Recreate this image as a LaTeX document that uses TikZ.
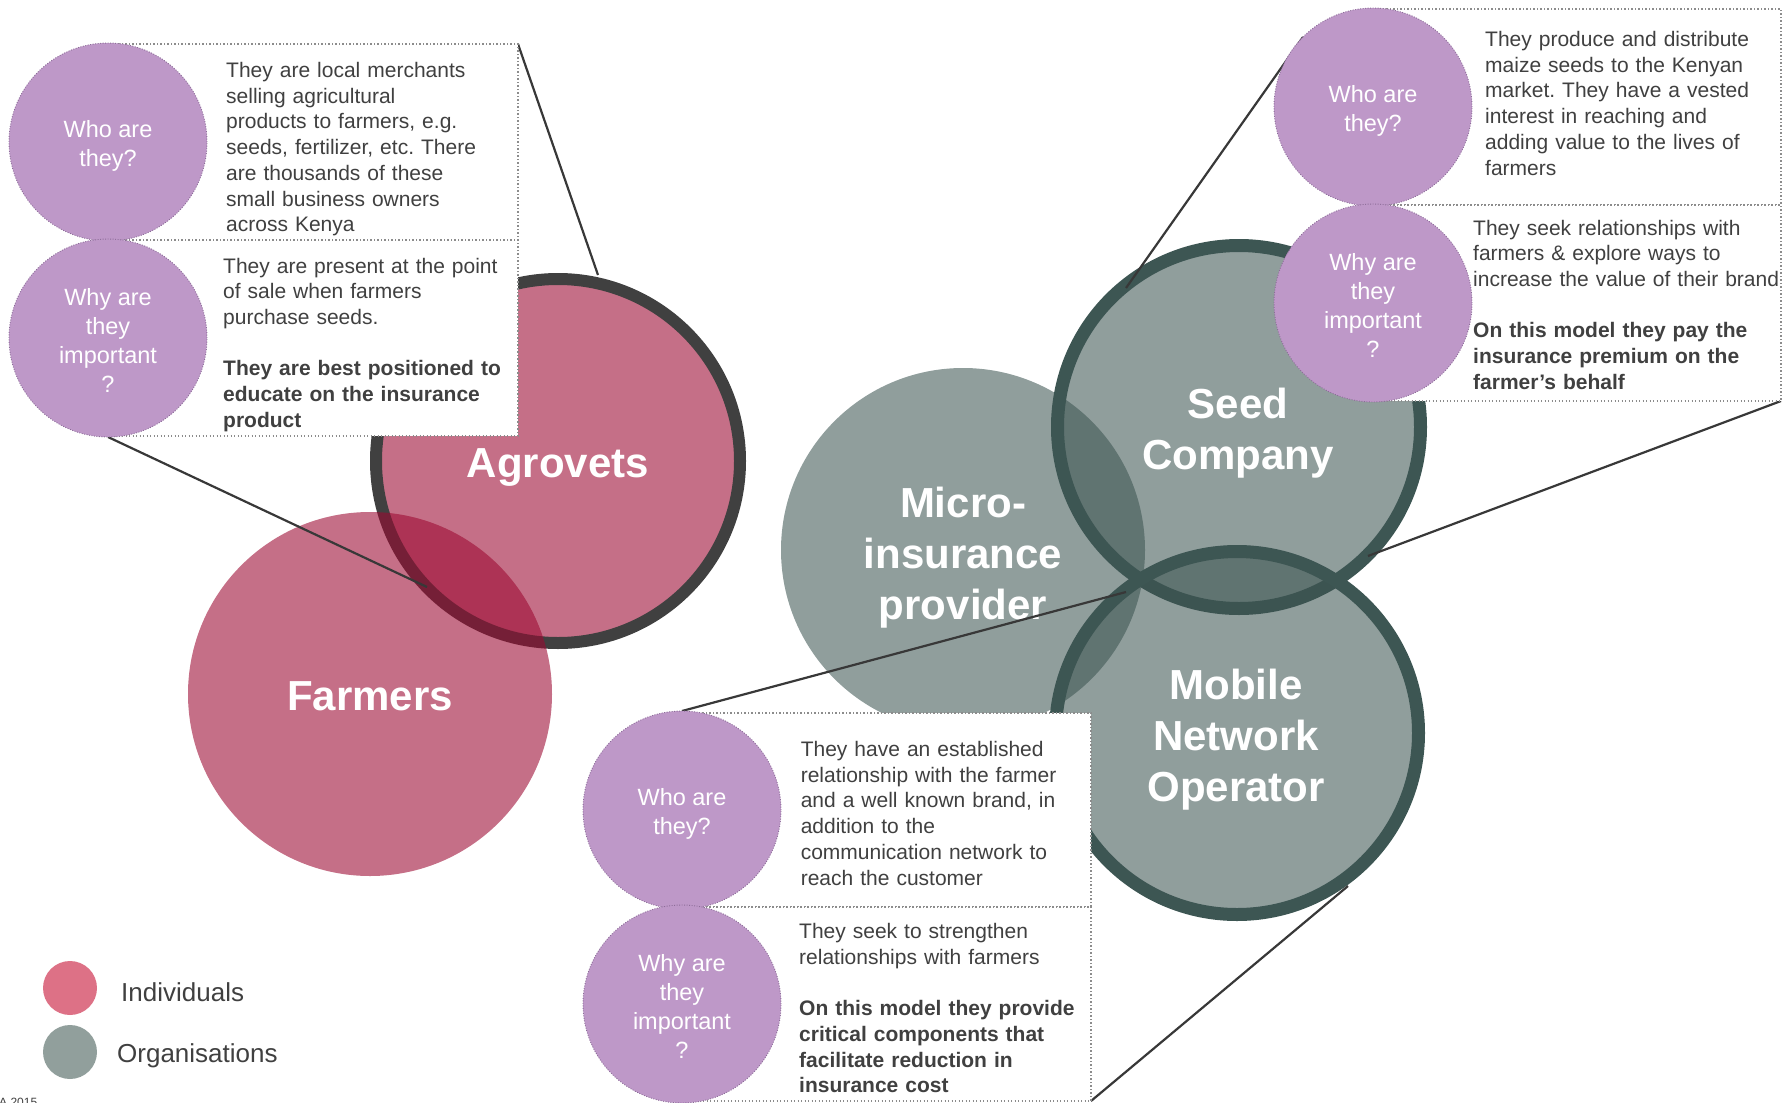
\documentclass[tikz,border=0pt]{standalone}
\usepackage{fontspec}
\setmainfont{Liberation Sans}
\frenchspacing
\definecolor{pinkbase}{RGB}{156,9,49}
\definecolor{greybase}{RGB}{60,84,81}
\definecolor{agroring}{RGB}{64,64,64}
\definecolor{orgring}{RGB}{61,86,83}
\definecolor{lilac}{RGB}{190,152,200}
\definecolor{lilacedge}{RGB}{140,108,152}
\definecolor{boxedge}{RGB}{140,140,140}
\definecolor{txt}{RGB}{64,64,64}
\definecolor{linkcol}{RGB}{56,56,56}
\definecolor{legpink}{RGB}{221,113,134}
\definecolor{leggrey}{RGB}{145,159,156}
\pgfdeclarelayer{circles}
\pgfdeclarelayer{links}
\pgfsetlayers{circles,links,main}
\begin{document}
\begin{tikzpicture}[x=1pt,y=-1pt,
  pinkdisc/.style={circle, inner sep=0pt, outer sep=0pt, minimum size=364pt, fill=pinkbase, fill opacity=0.586},
  greydisc/.style={circle, inner sep=0pt, outer sep=0pt, minimum size=364pt, fill=greybase, fill opacity=0.568},
  bigtext/.style={anchor=base, inner sep=0pt, text width=400pt, align=center, text=white, font=\fontsize{42}{51.3}\selectfont\bfseries},
  infobox/.style={rectangle, anchor=north west, inner sep=0pt, outer sep=0pt, fill=white, draw=boxedge, line width=1.1pt, dash pattern=on 1.1pt off 2.4pt},
  lilacdisc/.style={circle, inner sep=0pt, outer sep=0pt, minimum size=198pt, fill=lilac, draw=lilacedge, line width=0.9pt, dash pattern=on 0.9pt off 1.6pt},
  circtext/.style={inner sep=0pt, align=center, text=white, font=\fontsize{23.5}{29}\selectfont},
  bodytext/.style={anchor=base west, inner sep=0pt, text width=330pt, align=left, text=txt, font=\fontsize{21}{25.7}\selectfont},
  link/.style={draw=linkcol, line width=2.2pt},
  legdot/.style={circle, inner sep=0pt, minimum size=54pt},
  legtext/.style={anchor=base west, inner sep=0pt, text=txt, font=\fontsize{26}{30}\selectfont}
]
\useasboundingbox (0,0) rectangle (1786,1103);
\clip (0,0) rectangle (1786,1103);

\begin{pgfonlayer}{circles}
% ---------- individuals ----------
\node[pinkdisc, draw=agroring, draw opacity=1, line width=12pt] (agro) at (558,461) {};
\node[pinkdisc] (farm) at (370,694) {};
\node[bigtext] (agrolbl) at (558,477) {Agrovets};
\node[bigtext] (farmlbl) at (370,710) {Farmers};
% ---------- organisations ----------
\node[greydisc] (micro) at (963,550) {};
\node[greydisc, minimum size=363pt, draw=orgring, draw opacity=1, line width=13pt] (seed) at (1239,427) {};
\node[greydisc, minimum size=363pt, draw=orgring, draw opacity=1, line width=13pt] (mno) at (1237,733) {};
\node[bigtext] (microlbl) at (963,517) {Micro-\\insurance\\provider};
\node[bigtext] (seedlbl) at (1238,418) {Seed\\Company};
\node[bigtext] (mnolbl) at (1236,699) {Mobile\\Network\\Operator};
\end{pgfonlayer}

% ---------- link end points ----------
\coordinate (agroTop) at (598,275);
\coordinate (farmAgro) at (427,587);
\coordinate (seedTop) at (1126,288);
\coordinate (seedRight) at (1368,556);
\coordinate (microLink) at (1126,592);
\coordinate (mnoLink) at (1348,886);

% ---------- panels ----------
\node[infobox, minimum width=410pt, minimum height=196pt] (p1a) at (108,44) {};
\node[infobox, minimum width=410pt, minimum height=196pt] (p1b) at (108,240) {};
\node[lilacdisc] (p1c1) at (108,142) {};
\node[lilacdisc] (p1c2) at (108,338) {};

\node[infobox, minimum width=408pt, minimum height=196pt] (p2a) at (1373,9) {};
\node[infobox, minimum width=408pt, minimum height=196pt] (p2b) at (1373,205) {};
\node[lilacdisc] (p2c1) at (1373,107) {};
\node[lilacdisc] (p2c2) at (1373,303) {};

\node[infobox, minimum width=409pt, minimum height=194pt] (p3a) at (682,713) {};
\node[infobox, minimum width=409pt, minimum height=194pt] (p3b) at (682,907) {};
\node[lilacdisc] (p3c1) at (682,810) {};
\node[lilacdisc] (p3c2) at (682,1004) {};

% ---------- connectors (between circles and panels) ----------
\begin{pgfonlayer}{links}
\path[link] (p1a.north east) -- (agroTop);
\path[link] (p1c2.south) -- (farmAgro);
\path[link] (p2c1.135) -- (seedTop);
\path[link] (p2b.south east) -- (seedRight);
\path[link] (p3c1.north) -- (microLink);
\path[link] (p3b.south east) -- (mnoLink);
\end{pgfonlayer}

% ---------- panel texts ----------
\node[circtext] (p1q1) at ([yshift=-4pt]p1c1) {Who are\\they?};
\node[circtext] (p1q2) at ([yshift=-2pt]p1c2) {Why are\\they\\important\\?};
\node[bodytext] (p1t1) at (226,77.5) {They are local merchants\\selling agricultural\\products to farmers, e.g.\\seeds, fertilizer, etc. There\\are thousands of these\\small business owners\\across Kenya};
\node[bodytext] (p1t2) at (223,273) {They are present at the point\\of sale when farmers\\purchase seeds.\\[25.7pt]\textbf{They are best positioned to}\\\textbf{educate on the insurance}\\\textbf{product}};

\node[circtext] (p2q1) at ([yshift=-4pt]p2c1) {Who are\\they?};
\node[circtext] (p2q2) at ([yshift=-2pt]p2c2) {Why are\\they\\important\\?};
\node[bodytext] (p2t1) at (1485,46.5) {They produce and distribute\\maize seeds to the Kenyan\\market. They have a vested\\interest in reaching and\\adding value to the lives of\\farmers};
\node[bodytext] (p2t2) at (1473,235) {They seek relationships with\\farmers \& explore ways to\\increase the value of their brand\\[25.7pt]\textbf{On this model they pay the}\\\textbf{insurance premium on the}\\\textbf{farmer’s behalf}};

\node[circtext] (p3q1) at ([yshift=-4pt]p3c1) {Who are\\they?};
\node[circtext] (p3q2) at ([yshift=-2pt]p3c2) {Why are\\they\\important\\?};
\node[bodytext] (p3t1) at (800.6,756.5) {They have an established\\relationship with the farmer\\and a well known brand, in\\addition to the\\communication network to\\reach the customer};
\node[bodytext] (p3t2) at (799,938.5) {They seek to strengthen\\relationships with farmers\\[25.7pt]\textbf{On this model they provide}\\\textbf{critical components that}\\\textbf{facilitate reduction in}\\\textbf{insurance cost}};

% ---------- legend ----------
\node[legdot, fill=legpink] (legind) at (70,988) {};
\node[legdot, fill=leggrey] (legorg) at (70,1052) {};
\node[legtext] (legindt) at (121,1001) {Individuals};
\node[legtext] (legorgt) at (117,1062) {Organisations};
\node[anchor=base west, inner sep=0pt, text=txt, font=\fontsize{12}{14}\selectfont] (copy) at (-1,1106) {A 2015};
\end{tikzpicture}
\end{document}
